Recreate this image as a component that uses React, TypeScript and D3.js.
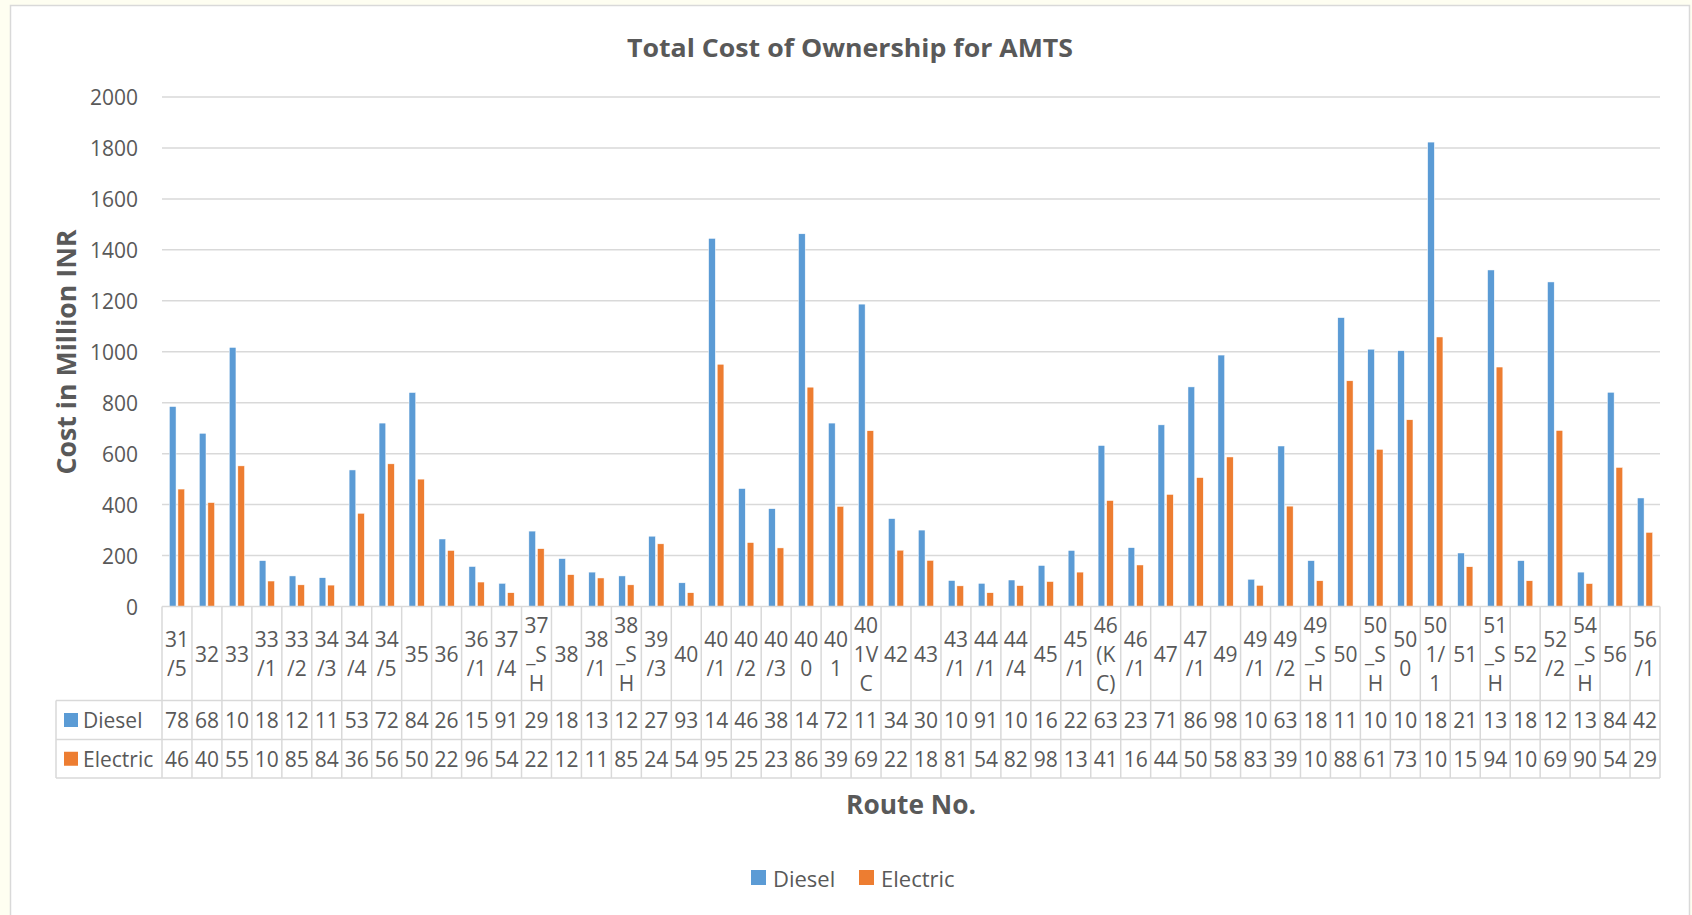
import React from "react";
import * as d3 from "d3";

const categories = ["31/5","32","33","33/1","33/2","34/3","34/4","34/5","35","36","36/1","37/4","37_SH","38","38/1","38_SH","39/3","40","40/1","40/2","40/3","400","401","401VC","42","43","43/1","44/1","44/4","45","45/1","46(KC)","46/1","47","47/1","49","49/1","49/2","49_SH","50","50_SH","500","501/1","51","51_SH","52","52/2","54_SH","56","56/1"];

const diesel = [785,680,1017,180,120,113,536,720,840,265,157,91,296,188,135,120,276,93,1445,463,384,1463,720,1187,345,300,102,91,104,161,220,632,231,713,862,987,107,630,180,1134,1010,1004,1823,210,1321,180,1274,135,841,426];

const electric = [461,408,552,100,85,84,366,560,500,220,96,54,227,125,112,85,246,54,951,251,230,861,393,690,221,181,81,54,82,98,135,416,163,440,506,587,83,394,101,886,617,733,1058,156,940,101,691,90,546,291];

const seriesNames = ["Diesel", "Electric"];
const seriesColors = ["#5B9BD5", "#ED7D31"];
const yTicks = [0, 200, 400, 600, 800, 1000, 1200, 1400, 1600, 1800, 2000];

const W = 1692, H = 915;
const plotL = 162, plotR = 1660, plotT = 97, plotB = 606.5;
const catRowB = 700.5, dRowB = 739.5, eRowB = 778;
const keyColL = 56;
const FONT = "'Open Sans', 'DejaVu Sans', sans-serif";
const TXT = "#595959";
const GRID = "#d9d9d9";

function chunk(s: string, n: number) {
  const out: string[] = [];
  for (let i = 0; i < s.length; i += n) out.push(s.slice(i, i + n));
  return out;
}

export default function App() {
  const x = d3.scaleBand<string>().domain(categories).range([plotL, plotR]).paddingInner(0).paddingOuter(0);
  const bw = x.bandwidth();
  const xs = d3.scaleBand<string>().domain(seriesNames).range([bw * 0.245, bw * 0.755]).paddingInner(0.22);
  const y = d3.scaleLinear().domain([0, 2000]).range([plotB, plotT]);
  const series = [diesel, electric];
  const tableTextSize = 21;
  const lineH = 29;

  return (
    <svg width={W} height={H} style={{ position: "absolute", left: 0, top: 0 }} fontFamily={FONT}>
      <rect x={0} y={0} width={W} height={H} fill="#FEFEF1" />
      <rect x={10.5} y={5.5} width={1679} height={H + 10} fill="#ffffff" stroke={GRID} strokeWidth={1.5} />

      <text x={850} y={47} textAnchor="middle" dominantBaseline="central" fontSize={25} fontWeight="bold" fill={TXT} textLength={446} lengthAdjust="spacingAndGlyphs">Total Cost of Ownership for AMTS</text>

      {yTicks.map((t) => (
        <g key={t}>
          {t !== 0 && <line x1={plotL} x2={plotR} y1={y(t)} y2={y(t)} stroke={GRID} strokeWidth={1.5} />}
          <text x={138} y={y(t)} textAnchor="end" dominantBaseline="central" fontSize={21} fill={TXT}>{t}</text>
        </g>
      ))}

      <text transform={`translate(65,352) rotate(-90)`} textAnchor="middle" dominantBaseline="central" fontSize={27} fontWeight="bold" fill={TXT} textLength={245} lengthAdjust="spacingAndGlyphs">Cost in Million INR</text>

      {categories.map((c, i) =>
        series.map((vals, si) => (
          <rect key={c + si} x={(x(c) as number) + (xs(seriesNames[si]) as number)} y={y(vals[i])} width={xs.bandwidth()} height={plotB - y(vals[i])} fill={seriesColors[si]} stroke="#ffffff" strokeWidth={0.5} />
        ))
      )}

      {/* data table grid */}
      <line x1={plotL} x2={plotR} y1={plotB} y2={plotB} stroke={GRID} strokeWidth={1.5} />
      <line x1={keyColL} x2={plotR} y1={catRowB} y2={catRowB} stroke={GRID} strokeWidth={1.5} />
      <line x1={keyColL} x2={plotR} y1={dRowB} y2={dRowB} stroke={GRID} strokeWidth={1.5} />
      <line x1={keyColL} x2={plotR} y1={eRowB} y2={eRowB} stroke={GRID} strokeWidth={1.5} />
      <line x1={keyColL} x2={keyColL} y1={catRowB} y2={eRowB} stroke={GRID} strokeWidth={1.5} />
      {categories.map((c) => (
        <line key={"v" + c} x1={x(c) as number} x2={x(c) as number} y1={plotB} y2={eRowB} stroke={GRID} strokeWidth={1.5} />
      ))}
      <line x1={plotR} x2={plotR} y1={plotB} y2={eRowB} stroke={GRID} strokeWidth={1.5} />

      {categories.map((c) => {
        const lines = chunk(c, 2);
        const cx = (x(c) as number) + bw / 2;
        const cy = (plotB + catRowB) / 2;
        return (
          <text key={"c" + c} textAnchor="middle" fontSize={tableTextSize} fill={TXT}>
            {lines.map((l, li) => (
              <tspan key={li} x={cx} y={cy + (li - (lines.length - 1) / 2) * lineH} dominantBaseline="central">{l}</tspan>
            ))}
          </text>
        );
      })}

      {series.map((vals, si) => {
        const cy = si === 0 ? (catRowB + dRowB) / 2 : (dRowB + eRowB) / 2;
        return (
          <g key={"row" + si}>
            <rect x={64} y={cy - 7} width={14} height={14} fill={seriesColors[si]} />
            <text x={83} y={cy} dominantBaseline="central" fontSize={tableTextSize} fill={TXT}>{seriesNames[si]}</text>
            {categories.map((c, i) => (
              <text key={c} x={(x(c) as number) + bw / 2} y={cy} textAnchor="middle" dominantBaseline="central" fontSize={tableTextSize} fill={TXT}>
                {String(vals[i]).slice(0, 2)}
              </text>
            ))}
          </g>
        );
      })}

      <text x={911} y={803} textAnchor="middle" dominantBaseline="central" fontSize={27} fontWeight="bold" fill={TXT} textLength={130} lengthAdjust="spacingAndGlyphs">Route No.</text>

      {seriesNames.map((s, si) => {
        const lx = si === 0 ? 751 : 859;
        return (
          <g key={"leg" + s}>
            <rect x={lx} y={870} width={15} height={15} fill={seriesColors[si]} />
            <text x={lx + 22} y={877.5} dominantBaseline="central" fontSize={22} fill={TXT}>{s}</text>
          </g>
        );
      })}
    </svg>
  );
}
